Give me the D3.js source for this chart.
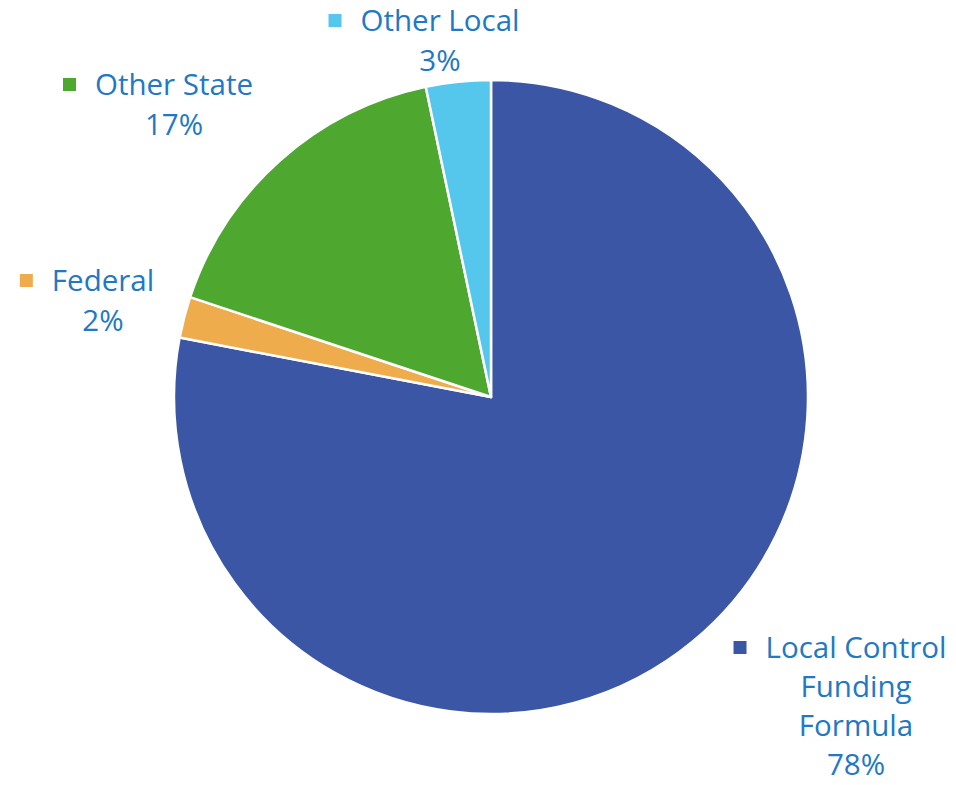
<!DOCTYPE html>
<html>
<head>
<meta charset="utf-8">
<script src="https://cdn.jsdelivr.net/npm/d3@7"></script>
<style>
  html, body { margin: 0; padding: 0; background: #ffffff; }
  svg { display: block; }
</style>
</head>
<body>
<svg id="chart" width="956" height="785"></svg>
<script>
// ---- data ----
const categories = ["Local Control Funding Formula", "Federal", "Other State", "Other Local"];
const values = [78.0, 2.1, 16.6, 3.3];
const labelLines = [["Local Control", "Funding", "Formula", "78%"], ["Federal", "2%"], ["Other State", "17%"], ["Other Local", "3%"]];
const colors = ["#3C56A6", "#EFAC4D", "#4EA72E", "#55C7EC"];

// ---- layout ----
const W = 956, H = 785;
const cx = 491, cy = 397, R = 317;
// label block: center x of text, baseline of first line
const labelLayout = [
  { x: 856, y: 658, gap: 39 },
  { x: 103, y: 291, gap: 40 },
  { x: 174, y: 95, gap: 40 },
  { x: 440, y: 31, gap: 40 }
];
const fontSize = 29.5, keySize = 13, keyGap = 19;
const textColor = "#2179C3";

const svg = d3.select("#chart");
const g = svg.append("g").attr("transform", `translate(${cx},${cy})`);

const pie = d3.pie().sort(null).value(d => d)(values);
const arc = d3.arc().innerRadius(0).outerRadius(R);

g.selectAll("path.slice")
  .data(pie)
  .join("path")
  .attr("class", "slice")
  .attr("d", arc)
  .attr("fill", (d, i) => colors[i])
  .attr("stroke", "#ffffff")
  .attr("stroke-width", 2.5)
  .attr("stroke-linejoin", "round");

const labels = svg.selectAll("g.label")
  .data(categories)
  .join("g")
  .attr("class", "label");

labels.each(function(d, i) {
  const lg = d3.select(this);
  const L = labelLayout[i];
  const t = lg.append("text")
    .attr("font-family", "'Open Sans', sans-serif")
    .attr("font-size", fontSize)
    .attr("font-weight", 500)
    .attr("fill", textColor)
    .attr("text-anchor", "middle");
  labelLines[i].forEach((line, k) => {
    t.append("tspan")
      .attr("x", L.x)
      .attr("y", L.y + k * L.gap)
      .text(line);
  });
  const first = t.select("tspan").node();
  const w = first.getComputedTextLength();
  lg.append("rect")
    .attr("x", L.x - w / 2 - keyGap - keySize)
    .attr("y", L.y - 17)
    .attr("width", keySize)
    .attr("height", keySize)
    .attr("fill", colors[i]);
});
</script>
</body>
</html>
